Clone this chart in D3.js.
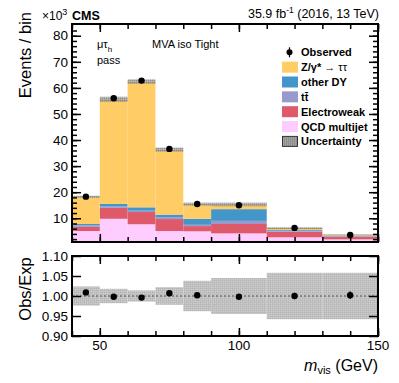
<!DOCTYPE html>
<html>
<head>
<meta charset="utf-8">
<script src="https://cdn.jsdelivr.net/npm/d3@7"></script>
<style>
  body { margin: 0; background: #fff; }
  text { font-family: "Liberation Sans", Arial, sans-serif; }
</style>
</head>
<body>
<div id="g1"></div>
<script>
// bin edges in GeV, stacked yields in units of 10^3 events
var edges = [40, 50, 60, 70, 80, 90, 110, 130, 150];
var qcd     = [5.1, 9.8, 7.7, 5.1, 5.0, 4.2, 2.7, 1.9];
var ewk     = [1.6, 4.2, 4.7, 4.6, 2.0, 3.6, 2.2, 1.0];
var ttbar   = [0.6, 0.5, 0.5, 0.7, 0.5, 1.2, 0.3, 0.2];
var otherDY = [0.5, 1.0, 1.3, 1.0, 2.3, 4.5, 0.3, 0.2];
var ztt     = [10.4, 40.1, 48.2, 24.9, 5.6, 1.8, 0.7, 0.3];
var observed = [18.3, 56.0, 62.8, 36.6, 15.5, 15.0, 6.3, 3.6];
var ratio    = [1.009, 0.998, 0.996, 1.007, 1.002, 0.998, 1.000, 1.002];
var ratioErr = [0.003, 0.002, 0.002, 0.003, 0.004, 0.004, 0.008, 0.009];
var relUnc   = [0.024, 0.018, 0.014, 0.022, 0.038, 0.045, 0.058, 0.058];
var yTicks = [10, 20, 30, 40, 50, 60, 70, 80];
var rTicks = [0.90, 0.95, 1.00, 1.05, 1.10];
var xTicks = [50, 100, 150];

var procs = [
  {name: "QCD multijet", vals: qcd, color: "#ffccff"},
  {name: "Electroweak", vals: ewk, color: "#de5a6a"},
  {name: "tt\u0304", vals: ttbar, color: "#9999cc"},
  {name: "other DY", vals: otherDY, color: "#4496c8"},
  {name: "Z/\u03b3*", extra: " \u2192 \u03c4\u03c4", vals: ztt, color: "#ffcc66"}
];

var width = 399, height = 383;
var svg = d3.select("#g1").append("svg")
  .attr("width", width).attr("height", height);

var defs = svg.append("defs");
function hatch(id, bg, line, op) {
  var p = defs.append("pattern").attr("id", id)
    .attr("patternUnits", "userSpaceOnUse").attr("width", 2).attr("height", 2);
  p.append("rect").attr("width", 2).attr("height", 2).attr("fill", bg).attr("fill-opacity", op);
  p.append("path").attr("d", "M0,0.5H2M0.5,0V2").attr("stroke", line)
    .attr("stroke-width", 0.6).attr("stroke-opacity", op);
}
hatch("hatchTop", "#a0a0a0", "#707070", 0.6);
hatch("hatchLeg", "#b0b0b0", "#808080", 1);
hatch("hatchRatio", "#cfcfcf", "#b2b2b2", 1);

var x = d3.scaleLinear().domain([40, 150]).range([72, 378]);
var y = d3.scaleLinear().domain([0.9, 84.5]).range([242, 24]);
var yr = d3.scaleLinear().domain([0.9, 1.1]).range([336, 256]);

var bins = d3.range(observed.length).map(function(i) {
  return {i: i, lo: edges[i], hi: edges[i + 1]};
});

// stack
var cum = bins.map(function() { return 0; });
var topG = svg.append("g");
procs.forEach(function(p) {
  var layer = bins.map(function(b) {
    var base = cum[b.i];
    cum[b.i] += p.vals[b.i];
    return {lo: b.lo, hi: b.hi, y0: base, y1: cum[b.i]};
  });
  topG.append("g").selectAll("rect").data(layer).enter().append("rect")
    .attr("x", function(d) { return x(d.lo); })
    .attr("width", function(d) { return x(d.hi) - x(d.lo); })
    .attr("y", function(d) { return y(d.y1); })
    .attr("height", function(d) { return Math.max(0, y(Math.max(d.y0, 0.9)) - y(d.y1)); })
    .attr("fill", p.color);
});
var total = cum.slice();

// uncertainty band on the stack
topG.append("g").selectAll("rect").data(bins).enter().append("rect")
  .attr("x", function(d) { return x(d.lo); })
  .attr("width", function(d) { return x(d.hi) - x(d.lo); })
  .attr("y", function(d) { return y(total[d.i] * (1 + relUnc[d.i])); })
  .attr("height", function(d) {
    return y(total[d.i] * (1 - relUnc[d.i])) - y(total[d.i] * (1 + relUnc[d.i]));
  })
  .attr("fill", "url(#hatchTop)");

// observed
topG.append("g").selectAll("circle").data(bins).enter().append("circle")
  .attr("cx", function(d) { return x((d.lo + d.hi) / 2); })
  .attr("cy", function(d) { return y(observed[d.i]); })
  .attr("r", 3.2).attr("fill", "#000");

// ratio panel
var rp = svg.append("g");
rp.append("g").selectAll("rect").data(bins).enter().append("rect")
  .attr("x", function(d) { return x(d.lo); })
  .attr("width", function(d) { return x(d.hi) - x(d.lo); })
  .attr("y", function(d) { return yr(1 + relUnc[d.i]); })
  .attr("height", function(d) { return yr(1 - relUnc[d.i]) - yr(1 + relUnc[d.i]); })
  .attr("fill", "url(#hatchRatio)");
rp.append("line").attr("x1", x(40)).attr("x2", x(150))
  .attr("y1", yr(1)).attr("y2", yr(1))
  .attr("stroke", "#555").attr("stroke-width", 1.2).attr("stroke-dasharray", "2,2");
rp.append("g").selectAll("line").data(bins).enter().append("line")
  .attr("x1", function(d) { return x((d.lo + d.hi) / 2); })
  .attr("x2", function(d) { return x((d.lo + d.hi) / 2); })
  .attr("y1", function(d) { return yr(ratio[d.i] - ratioErr[d.i]); })
  .attr("y2", function(d) { return yr(ratio[d.i] + ratioErr[d.i]); })
  .attr("stroke", "#000").attr("stroke-width", 1.5);
rp.append("g").selectAll("circle").data(bins).enter().append("circle")
  .attr("cx", function(d) { return x((d.lo + d.hi) / 2); })
  .attr("cy", function(d) { return yr(ratio[d.i]); })
  .attr("r", 3.2).attr("fill", "#000");

// axes (ticks inward, on all four sides)
function frame(yScale, yt, yMinor, x0, x1, y0, y1, fmt) {
  var g = svg.append("g");
  var xMinor = d3.range(40, 151, 10);
  g.append("g").attr("transform", "translate(0," + y1 + ")")
    .call(d3.axisBottom(x).tickValues(xMinor).tickSize(5).tickFormat(""));
  g.append("g").attr("transform", "translate(0," + y0 + ")")
    .call(d3.axisTop(x).tickValues(xMinor).tickSize(5).tickFormat(""));
  g.append("g").attr("transform", "translate(0," + y0 + ")")
    .call(d3.axisTop(x).tickValues(xTicks).tickSize(8).tickFormat(""));
  g.append("g").attr("transform", "translate(0," + y1 + ")")
    .call(d3.axisBottom(x).tickValues(xTicks).tickSize(8).tickFormat(""));
  if (yMinor) {
    g.append("g").attr("transform", "translate(" + x0 + ",0)")
      .call(d3.axisRight(yScale).tickValues(yMinor).tickSize(5).tickFormat(""));
    g.append("g").attr("transform", "translate(" + x1 + ",0)")
      .call(d3.axisLeft(yScale).tickValues(yMinor).tickSize(5).tickFormat(""));
  }
  g.append("g").attr("transform", "translate(" + x0 + ",0)")
    .call(d3.axisRight(yScale).tickValues(yt).tickSize(9).tickFormat(""));
  g.append("g").attr("transform", "translate(" + x1 + ",0)")
    .call(d3.axisLeft(yScale).tickValues(yt).tickSize(9).tickFormat(""));
  g.selectAll(".domain").remove();
  g.selectAll(".tick line").attr("stroke", "#000").attr("stroke-width", 1.5);
  g.append("rect").attr("x", x0).attr("y", y1).attr("width", x1 - x0).attr("height", y0 - y1)
    .attr("fill", "none").attr("stroke", "#000").attr("stroke-width", 2);
  g.append("g").selectAll("text").data(yt).enter().append("text")
    .attr("x", x0 - 4).attr("y", function(d) { return yScale(d) + 4.7; })
    .attr("text-anchor", "end").attr("font-size", 13.5)
    .text(fmt);
}
frame(y, yTicks, d3.range(2, 84, 2), 72, 378, 242, 24, function(d) { return d; });
frame(yr, rTicks, null, 72, 378, 336, 256, function(d) { return d.toFixed(2); });

// x labels under ratio
svg.append("g").selectAll("text").data(xTicks).enter().append("text")
  .attr("x", function(d) { return x(d); }).attr("y", 350)
  .attr("text-anchor", "middle").attr("font-size", 13.5).text(function(d) { return d; });
var xt = svg.append("text").attr("x", 378).attr("y", 371)
  .attr("text-anchor", "end").attr("font-size", 16);
xt.append("tspan").attr("font-style", "italic").text("m");
xt.append("tspan").attr("font-size", 11).attr("dy", 3).text("vis");
xt.append("tspan").attr("dy", -3).text(" (GeV)");

// y titles
svg.append("text").attr("transform", "translate(31,12) rotate(-90)")
  .attr("text-anchor", "end").attr("font-size", 16.5).text("Events / bin");
svg.append("text").attr("transform", "translate(31,289) rotate(-90)")
  .attr("text-anchor", "middle").attr("font-size", 16.5).text("Obs/Exp");

// header texts
var h = svg.append("text").attr("x", 42).attr("y", 20).attr("font-size", 12);
h.append("tspan").text("\u00d710");
h.append("tspan").attr("font-size", 9).attr("dy", -5).text("3");
svg.append("text").attr("x", 72).attr("y", 20).attr("font-size", 12.5)
  .attr("font-weight", "bold").text("CMS");
var lumi = svg.append("text").attr("x", 379).attr("y", 18).attr("text-anchor", "end")
  .attr("font-size", 12.5);
lumi.append("tspan").text("35.9 fb");
lumi.append("tspan").attr("font-size", 8.5).attr("dy", -5).text("-1");
lumi.append("tspan").attr("dy", 5).text(" (2016, 13 TeV)");

var cat = svg.append("text").attr("x", 97).attr("y", 48).attr("font-size", 11);
cat.append("tspan").text("\u03bc\u03c4");
cat.append("tspan").attr("font-size", 8).attr("dy", 4).text("h");
svg.append("text").attr("x", 97).attr("y", 64).attr("font-size", 11).text("pass");
svg.append("text").attr("x", 152).attr("y", 48).attr("font-size", 11).text("MVA iso Tight");

// legend
var legRows = [{name: "Observed", obs: true}].concat(procs.slice().reverse().map(function(p) {
  return {name: p.name, extra: p.extra, color: p.color};
}));
legRows.push({name: "Uncertainty", unc: true});
var leg = svg.append("g").selectAll("g").data(legRows).enter().append("g")
  .attr("transform", function(d, i) { return "translate(282," + (52.3 + i * 14.85) + ")"; });
leg.each(function(d) {
  var g = d3.select(this);
  if (d.obs) {
    g.append("line").attr("x1", 7.5).attr("x2", 7.5).attr("y1", -5).attr("y2", 5)
      .attr("stroke", "#000").attr("stroke-width", 1.2);
    g.append("circle").attr("cx", 7.5).attr("cy", 0).attr("r", 3).attr("fill", "#000");
  } else if (d.unc) {
    g.append("rect").attr("x", 0.5).attr("y", -5).attr("width", 15).attr("height", 10)
      .attr("fill", "url(#hatchLeg)").attr("stroke", "#333").attr("stroke-width", 1);
  } else {
    g.append("rect").attr("x", 0).attr("y", -5.5).attr("width", 16).attr("height", 11)
      .attr("fill", d.color);
  }
  var t = g.append("text").attr("x", 19).attr("y", 4).attr("font-size", 11)
    .attr("font-weight", "bold");
  t.append("tspan").text(d.name);
  if (d.extra) t.append("tspan").attr("font-weight", "normal").text(d.extra);
});
</script>
</body>
</html>
